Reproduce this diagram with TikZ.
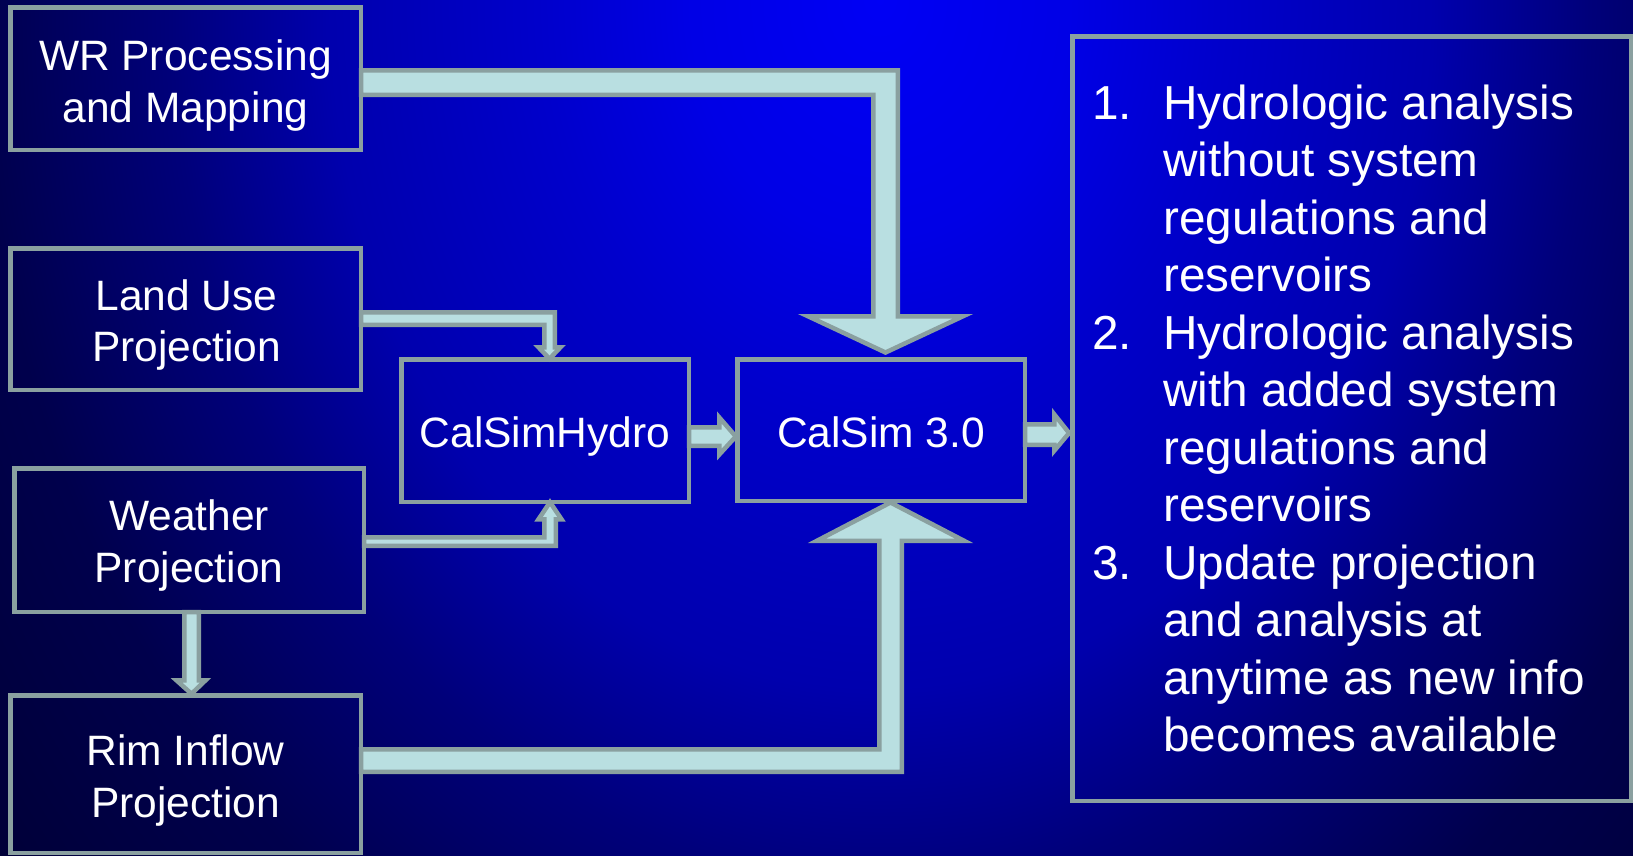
\documentclass[tikz,border=0pt]{standalone}
\usepackage{fontspec}
\setmainfont{Liberation Sans}
\usetikzlibrary{calc}
\definecolor{edgegray}{RGB}{138,160,160}
\definecolor{arrowfill}{RGB}{185,223,225}
% TikZ maps 25bp of a shading to the radius of the shaded path
\pgfdeclareradialshading{bgshade}{\pgfpoint{0bp}{0bp}}{rgb(0bp)=(0,0,0.96); rgb(4bp)=(0,0,0.90); rgb(7bp)=(0,0,0.80); rgb(11.5bp)=(0,0,0.68); rgb(14.75bp)=(0,0,0.48); rgb(18.75bp)=(0,0,0.30); rgb(23.25bp)=(0,0,0.22); rgb(25bp)=(0,0,0.21); rgb(50bp)=(0,0,0.21)}
\begin{document}
\begin{tikzpicture}[x=1pt,y=-1pt,
  box/.style={draw=edgegray, line width=4.5pt, rectangle, inner sep=0pt, outer sep=0pt},
  blockarrow/.style={fill=arrowfill, draw=edgegray, line width=4.5pt, line join=miter, miter limit=10},
  lbl/.style={text=white, font=\fontsize{42.5}{51}\selectfont, inner sep=0pt, anchor=base},
  itemtxt/.style={text=white, font=\fontsize{47.7}{57.5}\selectfont, inner sep=0pt, anchor=base west}]
\useasboundingbox (0,0) rectangle (1633,855);
% background
\begin{scope}
\clip (0,0) rectangle (1633,855);
\shade[shading=bgshade] (880,0) ellipse [x radius=1200pt, y radius=1500pt];
\end{scope}

% block arrows
% WR -> CalSim 3.0
\draw[blockarrow] (361,70.25) -- (897.75,70.25) -- (897.75,316.25) -- (963,316.25) -- (885.5,352.5) -- (808,316.25) -- (873.25,316.25) -- (873.25,94.75) -- (361,94.75) -- cycle;
% Rim Inflow -> CalSim 3.0
\draw[blockarrow] (361,749.25) -- (879.25,749.25) -- (879.25,540.75) -- (817,540.75) -- (890.5,502.5) -- (964,540.75) -- (901.75,540.75) -- (901.75,771.75) -- (361,771.75) -- cycle;
% Land Use -> CalSimHydro
\draw[blockarrow] (361,312.25) -- (554.75,312.25) -- (554.75,347.25) -- (560.5,347.25) -- (549.5,358.8) -- (538.5,347.25) -- (544.25,347.25) -- (544.25,324.75) -- (361,324.75) -- cycle;
% Weather -> CalSimHydro
\draw[blockarrow] (364,537.25) -- (544.25,537.25) -- (544.25,519.25) -- (538.5,519.25) -- (550,502.2) -- (561.5,519.25) -- (555.75,519.25) -- (555.75,545.75) -- (364,545.75) -- cycle;
% Weather -> Rim Inflow
\draw[blockarrow] (184.25,612) -- (198.75,612) -- (198.75,680.25) -- (205.6,680.25) -- (191.5,693.8) -- (176.4,680.25) -- (184.25,680.25) -- cycle;
% CalSimHydro -> CalSim 3.0
\draw[blockarrow] (689,427.25) -- (719.25,427.25) -- (719.25,417.4) -- (735.8,436.5) -- (719.25,454.6) -- (719.25,445.75) -- (689,445.75) -- cycle;
% CalSim 3.0 -> list
\draw[blockarrow] (1025,424.25) -- (1054.25,424.25) -- (1054.25,414.3) -- (1069.1,433) -- (1054.25,450.7) -- (1054.25,444.75) -- (1025,444.75) -- cycle;

% boxes
\node[box, minimum width=350.5pt, minimum height=142.5pt] (wr) at (185.5,78.5) {};
\node[box, minimum width=350.5pt, minimum height=141.5pt] (land) at (185.5,319) {};
\node[box, minimum width=349.5pt, minimum height=143.5pt] (weather) at (189,540) {};
\node[box, minimum width=350.5pt, minimum height=157.5pt] (rim) at (185.5,774) {};
\node[box, minimum width=287.5pt, minimum height=142.5pt] (hydro) at (545,430.5) {};
\node[box, minimum width=287.5pt, minimum height=141.5pt] (calsim) at (881,430) {};
\node[box, minimum width=558.5pt, minimum height=764.5pt] (list) at (1351.5,418.5) {};

% box labels
\node[lbl] (wr1) at (185.5,70) {WR Processing};
\node[lbl] (wr2) at (185.5,122) {and Mapping};
\node[lbl] (land1) at (186.5,310) {Land Use};
\node[lbl] (land2) at (186.5,361) {Projection};
\node[lbl] (we1) at (189,530) {Weather};
\node[lbl] (we2) at (189,582) {Projection};
\node[lbl] (rim1) at (185.5,765) {Rim Inflow};
\node[lbl] (rim2) at (185.5,817) {Projection};
\node[lbl] (hydrotxt) at (545,447) {CalSimHydro};
\node[lbl] (calsimtxt) at (881,447) {CalSim 3.0};

% list
\node[itemtxt] (n1) at (1092,119) {1.};
\node[itemtxt] (n2) at (1092,349) {2.};
\node[itemtxt] (n3) at (1092,579) {3.};
\node[itemtxt] (l1) at (1163,119) {Hydrologic analysis};
\node[itemtxt] (l2) at (1163,176.5) {without system};
\node[itemtxt] (l3) at (1163,234) {regulations and};
\node[itemtxt] (l4) at (1163,291.5) {reservoirs};
\node[itemtxt] (l5) at (1163,349) {Hydrologic analysis};
\node[itemtxt] (l6) at (1163,406.5) {with added system};
\node[itemtxt] (l7) at (1163,464) {regulations and};
\node[itemtxt] (l8) at (1163,521.5) {reservoirs};
\node[itemtxt] (l9) at (1163,579) {Update projection};
\node[itemtxt] (l10) at (1163,636.5) {and analysis at};
\node[itemtxt] (l11) at (1163,694) {anytime as new info};
\node[itemtxt] (l12) at (1163,751.5) {becomes available};
\end{tikzpicture}
\end{document}
